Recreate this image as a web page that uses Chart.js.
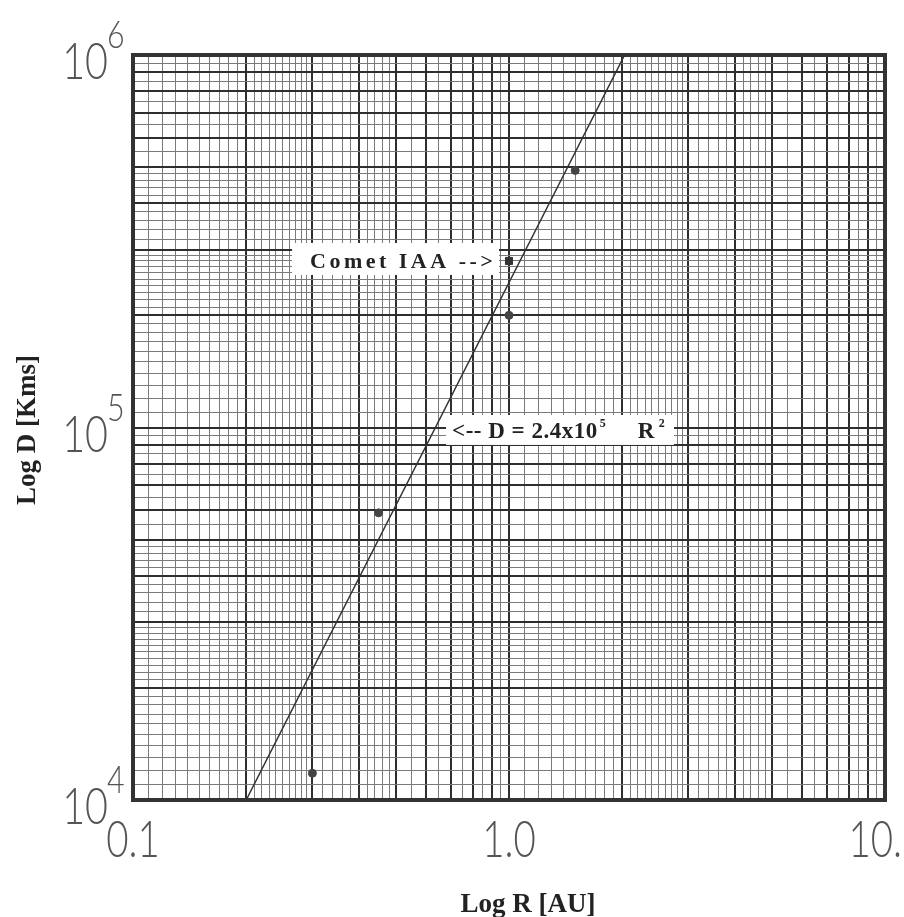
<!DOCTYPE html>
<html>
<head>
<meta charset="utf-8">
<script src="https://cdn.jsdelivr.net/npm/chart.js@4"></script>
<style>
  body { margin: 0; background: #fff; }
  #wrap { width: 904px; height: 917px; }
</style>
</head>
<body>
<div id="wrap"><canvas id="myChart" width="904" height="917"></canvas></div>
<script>
// measured points
const radiusAU = [0.3, 0.45, 1.0, 1.5];
const diameterKm = [1.18e4, 5.9e4, 2.0e5, 4.9e5];
// the comet (square marker)
const cometR = [1.0];
const cometD = [2.8e5];
// fitted line D = 2.4x10^5 R^2, end points as drawn
const fitR = [0.2, 2.03];
const fitD = [1e4, 1e6];

// axis ticks
const xTickValues = [0.1, 1, 10];
const xTickLabels = ['0.1', '1.0', '10.'];
const yTickValues = [1e4, 1e5, 1e6];
const yTickExps = ['4', '5', '6'];

// log paper rulings inside one decade (mantissa * 10)
function paperLines(lo, hi) {
  const out = [];
  for (let d = lo; d < hi; d *= 10) {
    for (let m = 10; m < 100; ) {
      out.push({ value: d * m / 10 });
      if (m < 30) m += 1;
      else if (m < 50) m += 2;
      else m += 5;
    }
  }
  out.push({ value: hi });
  return out;
}
function isMajor(v) {
  const e = Math.floor(Math.log10(v) + 1e-9);
  const m = v / Math.pow(10, e);
  return Math.abs(m - Math.round(m)) < 1e-6;
}

const gridStyle = {
  drawTicks: false,
  color: c => (c.tick && isMajor(c.tick.value)) ? '#2e2e2e' : '#7a7a7a',
  lineWidth: c => (c.tick && isMajor(c.tick.value)) ? 2 : 1
};

const labelPlugin = {
  id: 'paperLabels',
  afterDraw(chart) {
    const ctx = chart.ctx;
    const xs = chart.scales.x, ys = chart.scales.y;
    const a = chart.chartArea;
    ctx.save();
    // frame
    ctx.strokeStyle = '#333';
    ctx.lineWidth = 4;
    ctx.strokeRect(a.left, a.top, a.right - a.left, a.bottom - a.top);

    // tick labels, thin condensed face
    ctx.fillStyle = '#555';
    ctx.textBaseline = 'alphabetic';
    xTickValues.forEach((v, i) => {
      let px = xs.getPixelForValue(v);
      ctx.save();
      ctx.font = '300 52px Lato';
      ctx.textAlign = 'center';
      const w = ctx.measureText(xTickLabels[i]).width * 0.74;
      if (px + w / 2 > 902) px = 902 - w / 2;
      ctx.translate(px, 857);
      ctx.scale(0.74, 1);
      ctx.fillText(xTickLabels[i], 0, 0);
      ctx.restore();
    });
    yTickValues.forEach((v, i) => {
      const py = ys.getPixelForValue(v);
      ctx.save();
      ctx.translate(108, py + 24);
      ctx.scale(0.76, 1);
      ctx.font = '300 52px Lato';
      ctx.textAlign = 'right';
      ctx.fillText('10', 0, 0);
      ctx.restore();
      ctx.save();
      ctx.translate(107, py - 7);
      ctx.scale(0.8, 1);
      ctx.font = '300 38px Lato';
      ctx.textAlign = 'left';
      ctx.fillText(yTickExps[i], 0, 0);
      ctx.restore();
    });

    // axis titles
    ctx.fillStyle = '#222';
    ctx.font = 'bold 27px "Liberation Serif"';
    ctx.textAlign = 'center';
    ctx.fillText('Log R [AU]', 528, 912);
    ctx.save();
    ctx.translate(35, 430);
    ctx.rotate(-Math.PI / 2);
    ctx.fillText('Log D [Kms]', 0, 0);
    ctx.restore();

    // comet label, right of box sits just left of the square
    const cx = xs.getPixelForValue(cometR[0]);
    const cy = ys.getPixelForValue(cometD[0]);
    ctx.fillStyle = '#fff';
    ctx.fillRect(cx - 217, cy - 18, 207, 32);
    ctx.fillStyle = '#222';
    ctx.font = 'bold 22px "Liberation Serif"';
    ctx.textAlign = 'left';
    ctx.letterSpacing = '3.5px';
    ctx.fillText('Comet IAA -->', cx - 199, cy + 7);
    ctx.letterSpacing = '0px';

    // fit equation label
    const ex = xs.getPixelForValue(0.68);
    const ey = ys.getPixelForValue(9.85e4);
    ctx.fillStyle = '#fff';
    ctx.fillRect(ex, ey - 15, 228, 30);
    ctx.fillStyle = '#222';
    ctx.textAlign = 'left';
    ctx.font = 'bold 23px "Liberation Serif"';
    ctx.letterSpacing = '0.5px';
    let tx = ex + 6;
    const base = ey + 8;
    const part1 = '<-- D = 2.4x10';
    ctx.fillText(part1, tx, base);
    tx += ctx.measureText(part1).width;
    ctx.font = 'bold 12px "Liberation Serif"';
    ctx.fillText('5', tx + 2, base - 11);
    tx += 40;
    ctx.font = 'bold 23px "Liberation Serif"';
    ctx.fillText('R', tx, base);
    tx += ctx.measureText('R').width;
    ctx.font = 'bold 12px "Liberation Serif"';
    ctx.fillText('2', tx + 4, base - 11);
    ctx.letterSpacing = '0px';
    ctx.restore();
  }
};

var ctx = document.getElementById('myChart').getContext('2d');
var myChart = new Chart(ctx, {
  type: 'scatter',
  data: {
    datasets: [
      {
        label: 'fit',
        type: 'line',
        data: fitR.map((r, i) => ({ x: r, y: fitD[i] })),
        borderColor: '#333',
        borderWidth: 1.5,
        pointRadius: 0,
        fill: false
      },
      {
        label: 'measured',
        data: radiusAU.map((r, i) => ({ x: r, y: diameterKm[i] })),
        backgroundColor: '#444',
        borderColor: '#444',
        pointRadius: 4
      },
      {
        label: 'Comet IAA',
        data: cometR.map((r, i) => ({ x: r, y: cometD[i] })),
        pointStyle: 'rect',
        backgroundColor: '#333',
        borderColor: '#333',
        pointRadius: 5
      }
    ]
  },
  options: {
    responsive: false,
    animation: false,
    layout: { padding: { left: 133, right: 19, top: 55, bottom: 117 } },
    plugins: { legend: { display: false }, tooltip: { enabled: false } },
    scales: {
      x: {
        type: 'logarithmic',
        min: 0.1,
        max: 10,
        afterBuildTicks: s => { s.ticks = paperLines(0.1, 10); },
        ticks: { display: false },
        grid: gridStyle,
        border: { display: false }
      },
      y: {
        type: 'logarithmic',
        min: 1e4,
        max: 1e6,
        afterBuildTicks: s => { s.ticks = paperLines(1e4, 1e6); },
        ticks: { display: false },
        grid: gridStyle,
        border: { display: false }
      }
    }
  },
  plugins: [labelPlugin]
});
</script>
</body>
</html>
